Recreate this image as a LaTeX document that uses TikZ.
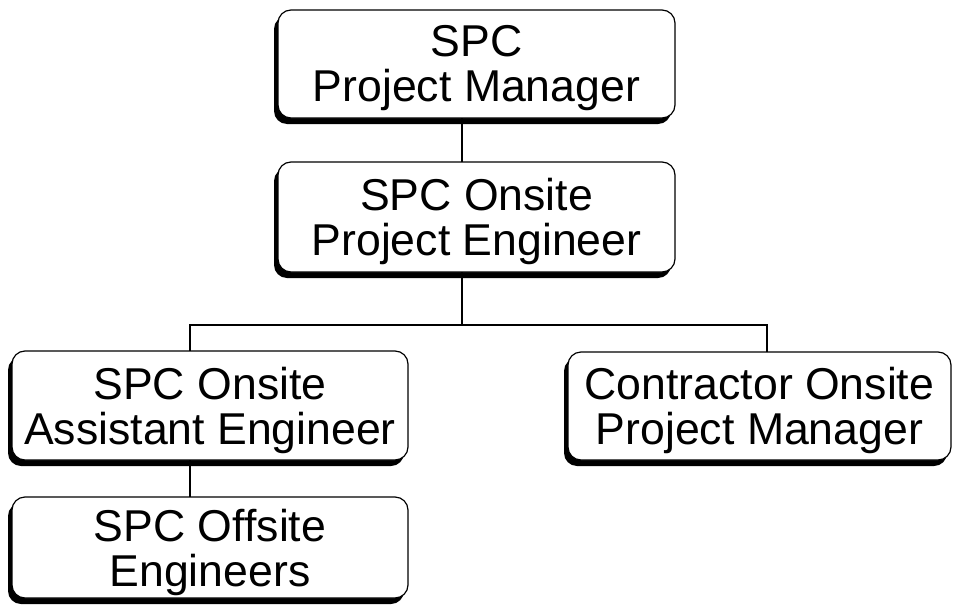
\documentclass[tikz,border=0pt]{standalone}
\usepackage{fontspec}
\setmainfont{Liberation Sans}
\usetikzlibrary{shadows}
\tikzset{
  orgbox/.style={draw=black, line width=1.2pt, fill=white, rounded corners=13pt,
    drop shadow={shadow xshift=-4pt, shadow yshift=-6pt, fill=black, opacity=1},
    inner sep=0pt, outer sep=0pt},
  orgtext/.style={font=\fontsize{44.6}{45}\selectfont, align=center, inner sep=0pt},
  link/.style={draw=black, line width=1.1pt}
}
\begin{document}
\begin{tikzpicture}[x=1pt, y=-1pt]
\useasboundingbox (0,0) rectangle (954,608);
% junction coordinates
\coordinate (jm) at (462,325);
\coordinate (jl) at (190,325);
\coordinate (jr) at (767,325);
% boxes
\node[orgbox, minimum width=397pt, minimum height=108pt] (b1) at (476.5,64) {};
\node[orgbox, minimum width=397pt, minimum height=110pt] (b2) at (476.5,217) {};
\node[orgbox, minimum width=396pt, minimum height=109pt] (b3) at (210,405.5) {};
\node[orgbox, minimum width=383pt, minimum height=108pt] (b5) at (759.5,406) {};
\node[orgbox, minimum width=396pt, minimum height=101pt] (b4) at (210,547.5) {};
% connectors
\draw[link] (b1.south -| jm) -- (b2.north -| jm);
\draw[link] (b2.south -| jm) -- (jm);
\draw[link] (b3.north -| jl) -- (jl) -- (jr) -- (b5.north -| jr);
\draw[link] (b3.south -| jl) -- (b4.north -| jl);
% texts
\node[orgtext, yshift=-4.5pt] (t1) at (b1.center) {SPC\\Project Manager};
\node[orgtext, yshift=-4.5pt] (t2) at (b2.center) {SPC Onsite\\Project Engineer};
\node[orgtext, yshift=-4.5pt] (t3) at (b3.center) {SPC Onsite\\Assistant Engineer};
\node[orgtext, yshift=-4.5pt] (t5) at (b5.center) {Contractor Onsite\\Project Manager};
\node[orgtext, yshift=-4.5pt] (t4) at (b4.center) {SPC Offsite\\Engineers};
\end{tikzpicture}
\end{document}
